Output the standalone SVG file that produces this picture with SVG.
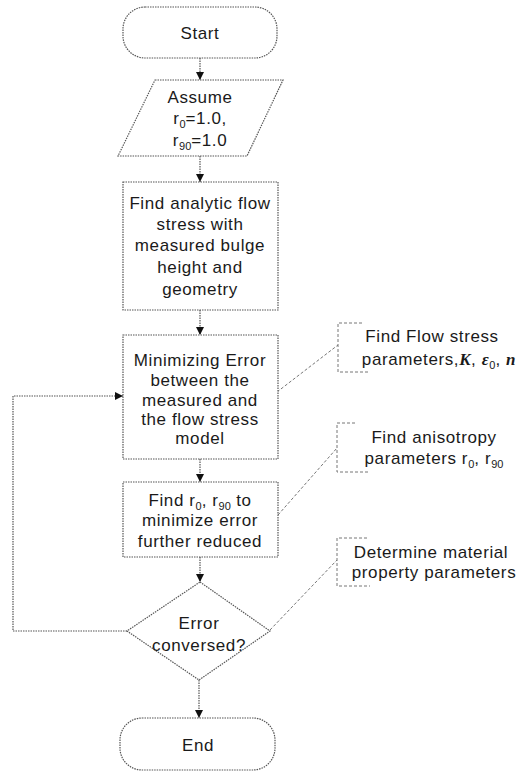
<svg xmlns="http://www.w3.org/2000/svg" width="518" height="776" viewBox="0 0 518 776">
<defs>
<style>
.shape{fill:#fff;stroke:#555;stroke-width:1.2;stroke-dasharray:1.5 1}
.conn{fill:none;stroke:#555;stroke-width:1.2;stroke-dasharray:1.5 1}
.note{fill:none;stroke:#777;stroke-width:1;stroke-dasharray:3 2}
text{font-family:"Liberation Sans",Arial,sans-serif;font-size:17px;letter-spacing:0.6px;fill:#1a1a1a;text-anchor:middle}
.sub{font-size:11px;letter-spacing:0}
.m{font-family:"Liberation Serif","DejaVu Serif",serif;font-style:italic;font-weight:bold}
</style>
<marker id="ah" viewBox="0 0 10 10" refX="10" refY="5" markerWidth="8" markerHeight="8" markerUnits="userSpaceOnUse" orient="auto">
<path d="M0,0 L10,5 L0,10 Z" fill="#111"/>
</marker>
</defs>
<rect width="518" height="776" fill="#fff"/>
<g id="connectors">
<line class="conn" x1="200" y1="58" x2="200" y2="80" marker-end="url(#ah)"/>
<line class="conn" x1="200" y1="156" x2="200" y2="182" marker-end="url(#ah)"/>
<line class="conn" x1="200" y1="310" x2="200" y2="335" marker-end="url(#ah)"/>
<line class="conn" x1="200" y1="459" x2="200" y2="482" marker-end="url(#ah)"/>
<line class="conn" x1="200" y1="557" x2="200" y2="582" marker-end="url(#ah)"/>
<line class="conn" x1="199" y1="680" x2="199" y2="718" marker-end="url(#ah)"/>
<polyline class="conn" points="127,631 13,631 13,396 123,396" marker-end="url(#ah)"/>
<line class="note" x1="277" y1="392" x2="338" y2="345"/>
<line class="note" x1="278" y1="515" x2="337" y2="448"/>
<line class="note" x1="270" y1="630" x2="337" y2="560"/>
</g>
<g id="start">
<rect class="shape" x="123" y="7" width="154" height="51" rx="22"/>
<text x="200" y="39">Start</text>
</g>
<g id="assume">
<polygon class="shape" points="155,80 283,80 247,156 118,156"/>
<text x="200" y="103">Assume</text>
<text x="200" y="124">r<tspan class="sub" dy="4">0</tspan><tspan dy="-4">=1.0,</tspan></text>
<text x="200" y="146">r<tspan class="sub" dy="4">90</tspan><tspan dy="-4">=1.0</tspan></text>
</g>
<g id="analytic">
<rect class="shape" x="123" y="182" width="155" height="128"/>
<text x="200" y="209">Find analytic flow</text>
<text x="200" y="230">stress with</text>
<text x="200" y="251">measured bulge</text>
<text x="200" y="273">height and</text>
<text x="200" y="295">geometry</text>
</g>
<g id="minimize">
<rect class="shape" x="123" y="335" width="155" height="124"/>
<text x="200" y="366">Minimizing Error</text>
<text x="200" y="386">between the</text>
<text x="200" y="406">measured and</text>
<text x="200" y="425">the flow stress</text>
<text x="200" y="444">model</text>
</g>
<g id="findr">
<rect class="shape" x="123" y="482" width="155" height="75"/>
<text x="200" y="506">Find r<tspan class="sub" dy="4">0</tspan><tspan dy="-4">, r</tspan><tspan class="sub" dy="4">90</tspan><tspan dy="-4"> to</tspan></text>
<text x="200" y="526">minimize error</text>
<text x="200" y="547">further reduced</text>
</g>
<g id="decision">
<polygon class="shape" points="200,582 270,631 199,680 127,631"/>
<text x="199" y="629">Error</text>
<text x="199" y="651">conversed?</text>
</g>
<g id="end">
<rect class="shape" x="120" y="718" width="155" height="52" rx="22"/>
<text x="198" y="751">End</text>
</g>
<g id="note-flow">
<path class="note" d="M362,323 H338 V372 H370"/>
<text x="432" y="342">Find Flow stress</text>
<text x="439" y="365">parameters,<tspan class="m">K</tspan>, <tspan class="m">ε</tspan><tspan class="sub" dy="4">0</tspan><tspan dy="-4">, </tspan><tspan class="m">n</tspan></text>
</g>
<g id="note-aniso">
<path class="note" d="M355,423 H337 V472 H370"/>
<text x="434" y="443">Find anisotropy</text>
<text x="434" y="464">parameters r<tspan class="sub" dy="4">0</tspan><tspan dy="-4">, r</tspan><tspan class="sub" dy="4">90</tspan></text>
</g>
<g id="note-material">
<path class="note" d="M367,538 H337 V586 H370"/>
<text x="431" y="558">Determine material</text>
<text x="434" y="578">property parameters</text>
</g>
</svg>
